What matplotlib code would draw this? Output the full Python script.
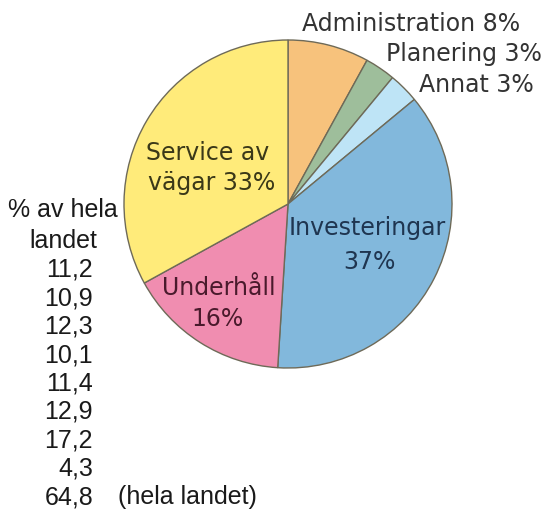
import matplotlib
matplotlib.use("Agg")
import matplotlib.pyplot as plt

categories = ["Administration", "Planering", "Annat", "Investeringar", "Underhåll", "Service av vägar"]
shares = [8, 3, 3, 37, 16, 33]
colors = ["#F7C27C", "#9EBE9B", "#BEE4F6", "#82B8DC", "#F08DB0", "#FFEB7A"]
regional = [11.2, 10.9, 12.3, 10.1, 11.4, 12.9, 17.2, 4.3, 64.8]

plt.rcParams["font.family"] = ["Liberation Sans", "DejaVu Sans"]

W, H = 550, 518
fig = plt.figure(figsize=(W / 100, H / 100), dpi=100)
ax = fig.add_axes([0, 0, 1, 1])


def py(y):
    # pixel row (from top) -> data y
    return H - y


ax.pie(shares, colors=colors, startangle=90, counterclock=False,
       center=(288, py(204)), radius=164,
       wedgeprops=dict(edgecolor="#6e6a58", linewidth=1.0))
ax.set_xlim(0, W)
ax.set_ylim(0, H)
ax.set_aspect("equal")
ax.axis("off")

lab = dict(fontsize=17, family="DejaVu Sans", ha="center", va="center")

# labels outside, small slices
outside = [(411, 24), (464, 54), (476, 85)]
for (x, y), cat, s in zip(outside, categories[:3], shares[:3]):
    ax.text(x, py(y), f"{cat} {s}%", color="#333333", **lab)

# labels inside, large slices (one text per line)
ax.text(367, py(228), categories[3], color="#1f3550", **lab)
ax.text(369, py(262), f"{shares[3]}%", color="#1f3550", **lab)
ax.text(219, py(288), categories[4], color="#4a1a2c", **lab)
ax.text(218, py(319), f"{shares[4]}%", color="#4a1a2c", **lab)
svc = categories[5].rsplit(" ", 1)
ax.text(208, py(153), svc[0], color="#3a3818", **lab)
ax.text(212, py(183), f"{svc[1]} {shares[5]}%", color="#3a3818", **lab)

# regional figures on the left
left = dict(fontsize=18, color="#1a1a1a", va="center")
ax.text(63, py(210), "% av hela", ha="center", **left)
ax.text(63, py(241), "landet", ha="center", **left)
for i, v in enumerate(regional):
    ax.text(93, py(270 + i * 28.4), f"{v:.1f}".replace(".", ","),
            ha="right", **left)
ax.text(118, py(270 + 8 * 28.4), "(hela landet)", ha="left", **left)

fig.savefig("out.png", dpi=100)
